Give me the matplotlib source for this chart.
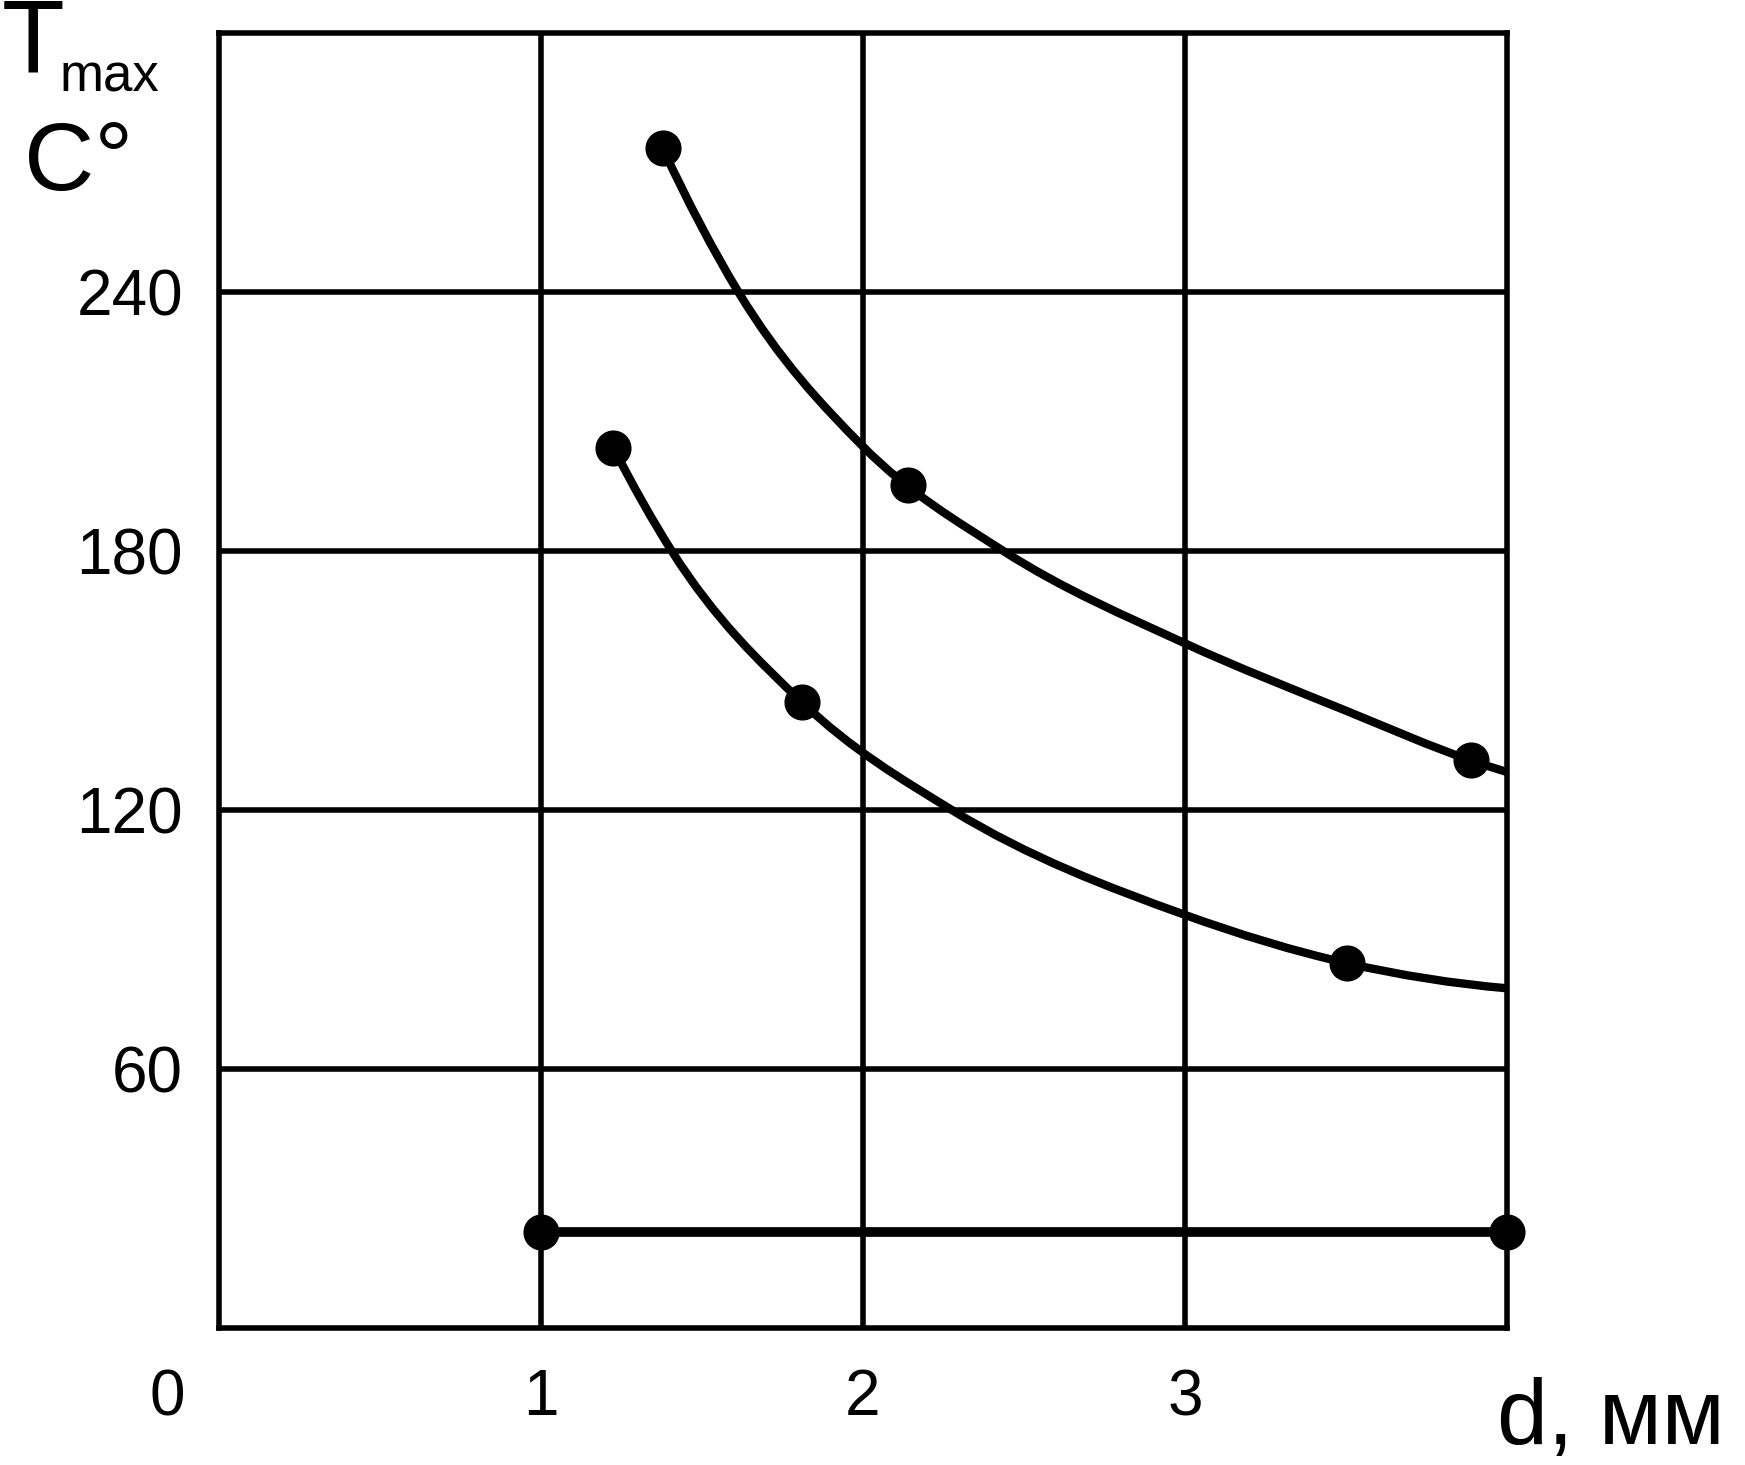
import matplotlib
matplotlib.use("Agg")
import matplotlib.pyplot as plt
from matplotlib.path import Path
from matplotlib.patches import PathPatch
import numpy as np

plt.rcParams['font.family'] = ['Liberation Sans', 'DejaVu Sans']

W, H = 1745, 1465

# ---- data ----
upper_curve_x = [1.378, 1.613, 2.0, 2.436, 3.0, 3.5, 3.888, 4.0]
upper_curve_y = [273.3, 240.0, 204.2, 180.0, 158.6, 143.0, 131.5, 128.8]
upper_pts_x = [1.378, 2.139, 3.888]
upper_pts_y = [273.3, 195.4, 131.5]

lower_curve_x = [1.225, 1.406, 1.81, 2.276, 3.0, 3.504, 4.0]
lower_curve_y = [203.9, 180.0, 145.0, 120.0, 95.7, 84.5, 78.7]
lower_pts_x = [1.225, 1.81, 3.504]
lower_pts_y = [203.9, 145.0, 84.5]

flat_x = [1.0, 4.0]
flat_y = [22.3, 22.3]

x_ticks = [1, 2, 3]
x_tick_labels = ["1", "2", "3"]
y_ticks = [60, 120, 180, 240]
y_tick_labels = ["60", "120", "180", "240"]


def smooth_path(xs, ys):
    """Smooth cubic Bezier path through the read points (Hermite in x)."""
    x = np.asarray(xs, float)
    y = np.asarray(ys, float)
    n = len(x)
    h = np.diff(x)
    s = np.diff(y) / h
    m = np.zeros(n)
    for i in range(1, n - 1):
        m[i] = (h[i] * s[i - 1] + h[i - 1] * s[i]) / (h[i - 1] + h[i])
    m[0] = ((2 * h[0] + h[1]) * s[0] - h[0] * s[1]) / (h[0] + h[1])
    m[-1] = ((2 * h[-1] + h[-2]) * s[-1] - h[-1] * s[-2]) / (h[-1] + h[-2])
    verts = [(x[0], y[0])]
    codes = [Path.MOVETO]
    for i in range(n - 1):
        d = h[i] / 3.0
        verts += [(x[i] + d, y[i] + m[i] * d),
                  (x[i + 1] - d, y[i + 1] - m[i + 1] * d),
                  (x[i + 1], y[i + 1])]
        codes += [Path.CURVE4] * 3
    return Path(verts, codes)


fig = plt.figure(figsize=(W / 100, H / 100), dpi=100)
ax = fig.add_axes([219 / W, (H - 1328) / H, (1507 - 219) / W, (1328 - 33) / H])
ax.set_xlim(0, 4)
ax.set_ylim(0, 300)

ax.set_xticks(x_ticks)
ax.set_xticklabels(x_tick_labels)
ax.set_yticks(y_ticks)
ax.set_yticklabels(y_tick_labels)
ax.tick_params(axis='both', length=0, labelsize=46)
ax.tick_params(axis='x', pad=29)
ax.tick_params(axis='y', pad=26)
ax.grid(True, color='black', linewidth=4.0)
ax.set_axisbelow(True)
for s in ax.spines.values():
    s.set_linewidth(4.0)
    s.set_color('black')

lw = 6.0
for xs, ys in [(upper_curve_x, upper_curve_y), (lower_curve_x, lower_curve_y)]:
    ax.add_patch(PathPatch(smooth_path(xs, ys), facecolor='none', edgecolor='black',
                           lw=lw, capstyle='butt', joinstyle='round', zorder=3))
ax.plot(flat_x, flat_y, color='black', lw=7.0, zorder=3)

ms = 25
for xs, ys in [(upper_pts_x, upper_pts_y), (lower_pts_x, lower_pts_y), (flat_x, flat_y)]:
    ax.plot(xs, ys, linestyle='none', marker='o', ms=ms, color='black', clip_on=False, zorder=4)

ax.annotate('0', xy=(0, 0), xycoords='data', xytext=(-37.4, -29), textcoords='offset points',
            ha='center', va='top', fontsize=46, annotation_clip=False)

fig.text(2 / W, (H - 72) / H, 'T', fontsize=74, va='baseline', ha='left')
fig.text(60 / W, (H - 92) / H, 'max', fontsize=38, va='baseline', ha='left')
fig.text(24 / W, (H - 190) / H, 'C°', fontsize=70, va='baseline', ha='left')
fig.text(1497 / W, 2 / H, 'd, мм', fontsize=66, va='bottom', ha='left')

fig.savefig('out.png', dpi=100, facecolor='white')
